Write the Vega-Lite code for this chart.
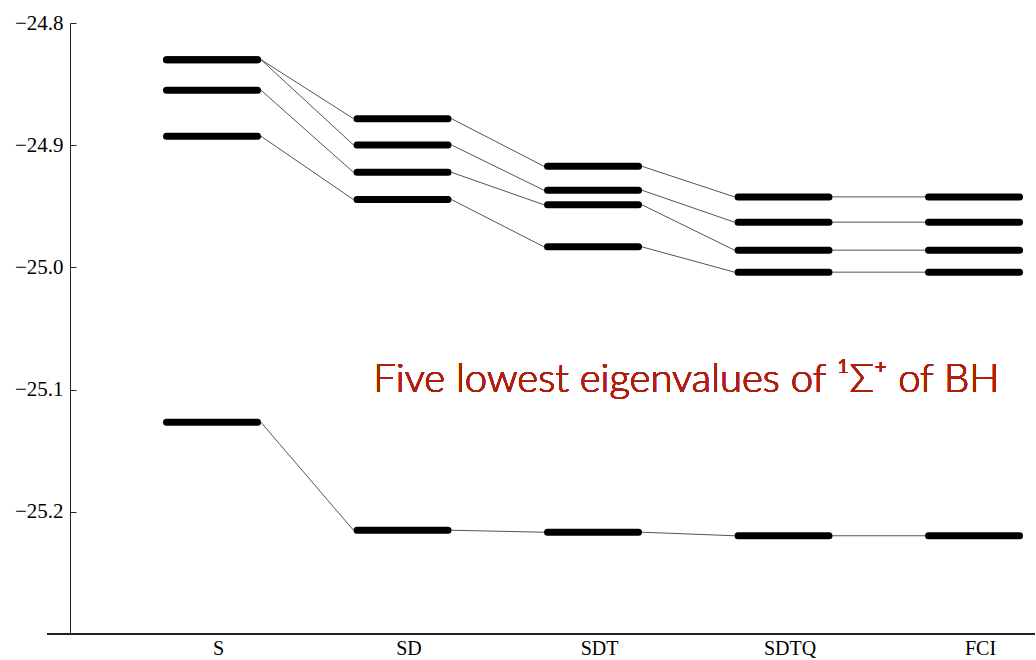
{
  "$schema": "https://vega.github.io/schema/vega-lite/v6.json",
  "autosize": "none",
  "width": 965,
  "height": 611,
  "padding": {"left": 70, "top": 23, "right": 1, "bottom": 26},
  "background": "white",
  "config": {"view": {"stroke": null}},
  "data": {
    "values": [
      {"method": "S", "pos": 1, "state": 1, "E": -25.1268},
      {"method": "SD", "pos": 2, "state": 1, "E": -25.2151},
      {"method": "SDT", "pos": 3, "state": 1, "E": -25.2167},
      {"method": "SDTQ", "pos": 4, "state": 1, "E": -25.2196},
      {"method": "FCI", "pos": 5, "state": 1, "E": -25.2196},
      {"method": "S", "pos": 1, "state": 2, "E": -24.8927},
      {"method": "SD", "pos": 2, "state": 2, "E": -24.9445},
      {"method": "SDT", "pos": 3, "state": 2, "E": -24.9832},
      {"method": "SDTQ", "pos": 4, "state": 2, "E": -25.0039},
      {"method": "FCI", "pos": 5, "state": 2, "E": -25.0039},
      {"method": "S", "pos": 1, "state": 3, "E": -24.8550},
      {"method": "SD", "pos": 2, "state": 3, "E": -24.9222},
      {"method": "SDT", "pos": 3, "state": 3, "E": -24.9488},
      {"method": "SDTQ", "pos": 4, "state": 3, "E": -24.9859},
      {"method": "FCI", "pos": 5, "state": 3, "E": -24.9859},
      {"method": "S", "pos": 1, "state": 4, "E": -24.8300},
      {"method": "SD", "pos": 2, "state": 4, "E": -24.8998},
      {"method": "SDT", "pos": 3, "state": 4, "E": -24.9369},
      {"method": "SDTQ", "pos": 4, "state": 4, "E": -24.9630},
      {"method": "FCI", "pos": 5, "state": 4, "E": -24.9630},
      {"method": "S", "pos": 1, "state": 5, "E": -24.8300},
      {"method": "SD", "pos": 2, "state": 5, "E": -24.8783},
      {"method": "SDT", "pos": 3, "state": 5, "E": -24.9173},
      {"method": "SDTQ", "pos": 4, "state": 5, "E": -24.9423},
      {"method": "FCI", "pos": 5, "state": 5, "E": -24.9423}
    ]
  },
  "layer": [
    {
      "mark": {"type": "rule", "color": "#222222", "strokeWidth": 1, "clip": false},
      "encoding": {
        "x": {"datum": 0.134, "type": "quantitative", "scale": {"domain": [0.2546, 5.32]}},
        "x2": {"datum": 5.32},
        "y": {"datum": -25.3, "type": "quantitative", "scale": {"domain": [-25.3, -24.8]}}
      }
    },
    {
      "transform": [
        {"window": [{"op": "lead", "field": "E", "as": "E2"}, {"op": "lead", "field": "pos", "as": "pos2"}], "groupby": ["state"], "sort": [{"field": "pos"}]},
        {"filter": "datum.pos2 != null"}
      ],
      "mark": {"type": "rule", "color": "#555555", "strokeWidth": 1, "xOffset": 49, "x2Offset": -49},
      "encoding": {
        "x": {"field": "pos", "type": "quantitative"},
        "x2": {"field": "pos2"},
        "y": {"field": "E", "type": "quantitative"},
        "y2": {"field": "E2"}
      }
    },
    {
      "mark": {"type": "rule", "color": "black", "strokeWidth": 7, "strokeCap": "round", "xOffset": -45.5, "x2Offset": 45.5},
      "encoding": {
        "x": {
          "field": "pos", "type": "quantitative",
          "scale": {"domain": [0.2546, 5.32], "nice": false, "zero": false},
          "axis": {
            "title": null, "values": [1, 2, 3, 4, 5],
            "labelExpr": "['','S','SD','SDT','SDTQ','FCI'][datum.value]",
            "domain": false, "ticks": false, "grid": false,
            "labelFont": "Liberation Serif", "labelFontSize": 20, "labelColor": "black",
            "labelPadding": 4, "labelOffset": 6
          }
        },
        "x2": {"field": "pos"},
        "y": {
          "field": "E", "type": "quantitative",
          "scale": {"domain": [-25.3, -24.8], "nice": false, "zero": false},
          "axis": {
            "title": null, "values": [-24.8, -24.9, -25.0, -25.1, -25.2],
            "format": ".1f", "grid": false,
            "domainColor": "#222222", "domainWidth": 1,
            "tickColor": "#222222", "tickSize": -6, "tickWidth": 1,
            "labelFont": "Liberation Serif", "labelFontSize": 21, "labelColor": "black",
            "labelPadding": 13
          }
        }
      }
    },
    {
      "mark": {"type": "text", "text": "Five lowest eigenvalues of ¹Σ⁺ of BH", "font": "Lato", "fontWeight": 300, "fontSize": 40, "color": "#b01e0e", "align": "center", "baseline": "middle"},
      "encoding": {
        "x": {"datum": 3.49, "type": "quantitative"},
        "y": {"datum": -25.092, "type": "quantitative"}
      }
    }
  ]
}
